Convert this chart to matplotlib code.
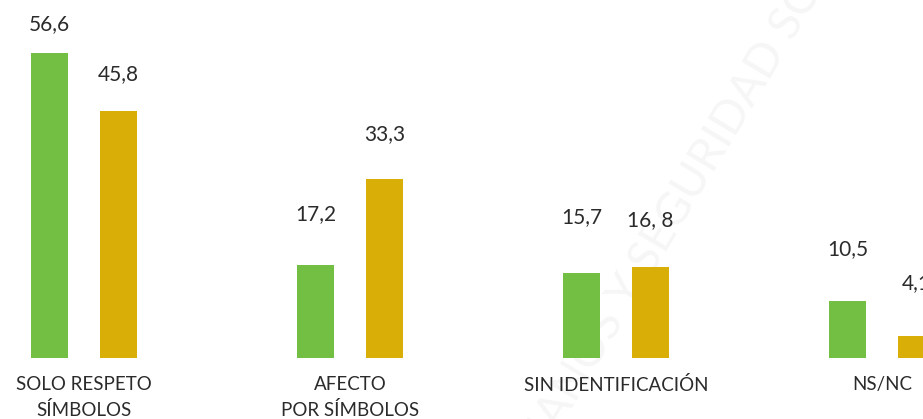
import matplotlib.pyplot as plt
import numpy as np

categories = ["SOLO RESPETO\nSÍMBOLOS", "AFECTO\nPOR SÍMBOLOS", "SIN IDENTIFICACIÓN", "NS/NC"]
serie_a = [56.6, 17.2, 15.7, 10.5]
serie_b = [45.8, 33.3, 16.8, 4.1]
labels_a = ["56,6", "17,2", "15,7", "10,5"]
labels_b = ["45,8", "33,3", "16, 8", "4,1"]

# distancia de la etiqueta sobre la barra (px)
off_a = [29, 51, 56, 52]
off_b = [37, 44, 47, 53]

plt.rcParams['font.family'] = ['Lato', 'DejaVu Sans']

fig = plt.figure(figsize=(9.23, 4.19), dpi=100)
ax = fig.add_axes([0, 0, 1, 1])

px = 266.0           # px por grupo
ppu = 5.39           # px por unidad
x = np.arange(len(categories))
w = 37 / px
d = 34.25 / px

ax.bar(x - d, serie_a, w, color="#72BF44")
ax.bar(x + d, serie_b, w, color="#D9AF07")

for i in range(len(x)):
    ax.annotate(labels_a[i], (x[i] - d, serie_a[i]), xytext=(0, off_a[i] * 0.72),
                textcoords="offset points", ha="center", va="center",
                fontsize=15, color="#2b2b2b")
    ax.annotate(labels_b[i], (x[i] + d, serie_b[i]), xytext=(0, off_b[i] * 0.72),
                textcoords="offset points", ha="center", va="center",
                fontsize=15, color="#2b2b2b")
    ax.annotate(categories[i], (x[i], 0), xytext=(0, -13),
                textcoords="offset points", ha="center", va="top",
                fontsize=13.5, color="#2b2b2b", linespacing=1.55)

# marca de agua
ax.text(0.662, 0.24, "DERECHOS HUMANOS Y SEGURIDAD SOCIAL", transform=ax.transAxes,
        rotation=59, ha="center", va="center", fontsize=33, color="#f6f6f6", zorder=0)

ax.set_xlim(-84 / px, (923 - 84) / px)
ax.set_ylim(-61 / ppu, (419 - 61) / ppu)
ax.axis("off")

fig.savefig("out.png", dpi=100)
